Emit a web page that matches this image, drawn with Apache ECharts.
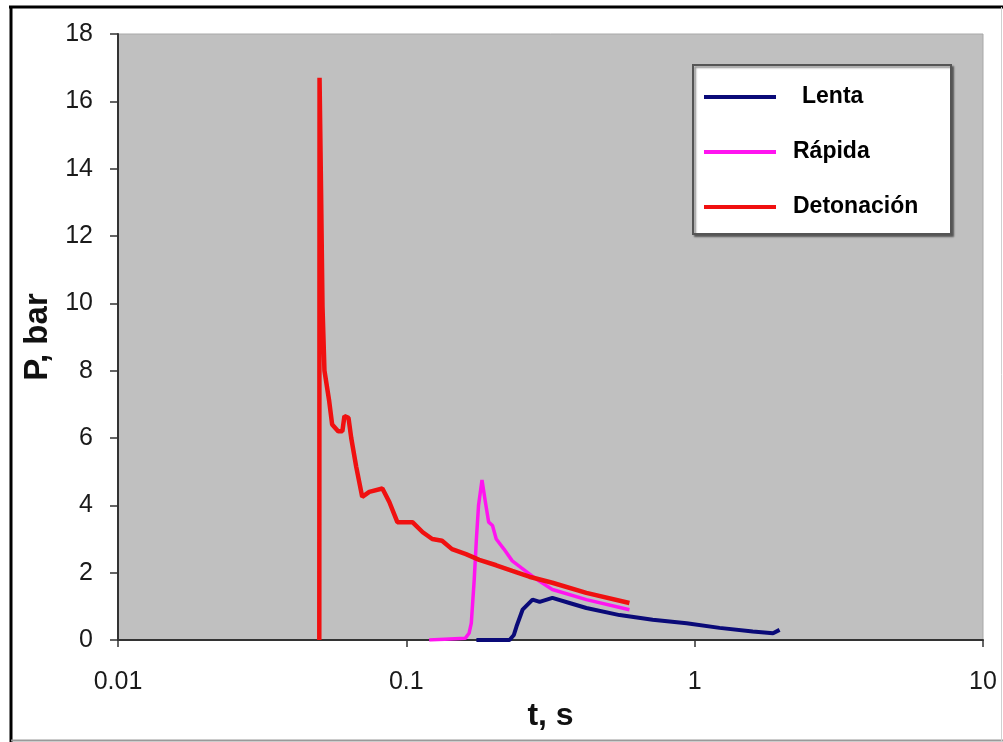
<!DOCTYPE html>
<html>
<head>
<meta charset="utf-8">
<title>P vs t</title>
<script src="https://cdn.jsdelivr.net/npm/echarts@6/dist/echarts.min.js"></script>
<style>
  html, body { margin: 0; padding: 0; background: #fff; }
  #chart { width: 1003px; height: 742px; }
</style>
</head>
<body>
<div id="chart"></div>
<script>
// datos (t en s, P en bar)
const lentaT = [0.175, 0.228, 0.236, 0.241, 0.253, 0.274, 0.290, 0.321, 0.368, 0.421, 0.549, 0.715, 0.938, 1.22, 1.59, 1.87, 1.97]
const lentaP = [0, 0, 0.15, 0.4, 0.9, 1.2, 1.13, 1.25, 1.1, 0.95, 0.74, 0.6, 0.5, 0.36, 0.25, 0.2, 0.3]

const rapidaT = [0.120, 0.160, 0.165, 0.168, 0.172, 0.175, 0.178, 0.183, 0.188, 0.193, 0.199, 0.205, 0.218, 0.233, 0.250, 0.283, 0.321, 0.421, 0.594]
const rapidaP = [0, 0.05, 0.2, 0.5, 1.8, 3.0, 4.0, 4.75, 4.1, 3.5, 3.4, 3.0, 2.7, 2.35, 2.15, 1.8, 1.5, 1.2, 0.9]

const detonT = [0.0499, 0.0500, 0.0506, 0.0512, 0.0520, 0.0540, 0.0553, 0.0580, 0.0600, 0.0610, 0.0630, 0.0644, 0.0670, 0.0703, 0.0744, 0.0826, 0.0873, 0.0931, 0.105, 0.114, 0.123, 0.133, 0.144, 0.161, 0.179, 0.205, 0.233, 0.267, 0.321, 0.421, 0.594]
const detonP = [0, 16.7, 13.4, 9.9, 8.0, 7.1, 6.4, 6.2, 6.2, 6.65, 6.6, 6.0, 5.15, 4.25, 4.4, 4.5, 4.1, 3.5, 3.5, 3.2, 3.0, 2.95, 2.7, 2.55, 2.38, 2.22, 2.05, 1.88, 1.7, 1.4, 1.1]

const xTicks = [0.01, 0.1, 1, 10]
const yMin = 0, yMax = 18, yStep = 2

const seriesNames = ['Lenta', 'Rápida', 'Detonación']
const seriesColors = ['#0a0a78', '#ff14f0', '#f01010']

const FONT = "'Liberation Sans', Arial, sans-serif"

const pairs = (ts, ps) => ts.map((t, i) => [t, ps[i]])

const seriesData = [
  pairs(lentaT, lentaP),
  pairs(rapidaT, rapidaP),
  pairs(detonT, detonP)
]
const lineWidths = [4, 3.5, 4.5]

const chart = echarts.init(document.getElementById('chart'), null, { renderer: 'canvas' })

chart.setOption({
  backgroundColor: '#ffffff',
  animation: false,
  textStyle: { fontFamily: FONT },
  grid: {
    left: 118,
    right: 20,
    top: 34,
    bottom: 102,
    show: true,
    backgroundColor: '#c0c0c0',
    borderColor: '#a8a8a8',
    borderWidth: 1
  },
  xAxis: {
    type: 'log',
    logBase: 10,
    min: xTicks[0],
    max: xTicks[xTicks.length - 1],
    name: 't, s',
    nameLocation: 'middle',
    nameGap: 57,
    nameTextStyle: { fontFamily: FONT, fontSize: 32, fontWeight: 'bold', color: '#111' },
    axisLine: { lineStyle: { color: '#333', width: 2 } },
    axisTick: { show: true, length: 7, lineStyle: { color: '#333', width: 1.5 } },
    minorTick: { show: false },
    splitLine: { show: false },
    axisLabel: {
      margin: 30,
      fontSize: 25,
      color: '#1a1a1a',
      formatter: v => (xTicks.find(t => Math.abs(t - v) / t < 1e-6) ?? v).toString()
    }
  },
  yAxis: {
    type: 'value',
    min: yMin,
    max: yMax,
    interval: yStep,
    name: 'P, bar',
    nameLocation: 'middle',
    nameGap: 64,
    nameTextStyle: { fontFamily: FONT, fontSize: 33, fontWeight: 'bold', color: '#111' },
    axisLine: { show: true, lineStyle: { color: '#333', width: 2 } },
    axisTick: { show: true, length: 8, lineStyle: { color: '#333', width: 1.5 } },
    splitLine: { show: false },
    axisLabel: { margin: 25, fontSize: 25, color: '#1a1a1a' }
  },
  legend: {
    orient: 'vertical',
    left: 693,
    top: 65,
    padding: [19, 13, 14, 11],
    itemWidth: 72,
    itemHeight: 4,
    itemGap: 29,
    icon: 'rect',
    backgroundColor: '#ffffff',
    borderColor: '#555',
    borderWidth: 2,
    borderRadius: 0,
    shadowColor: 'rgba(0,0,0,0.45)',
    shadowBlur: 2,
    shadowOffsetX: 2,
    shadowOffsetY: 2,
    // "Lenta" va un poco mas adentro en el original
    formatter: name => (name === 'Lenta' ? '{ind|}' : '') + name,
    textStyle: {
      fontFamily: FONT,
      fontSize: 23,
      fontWeight: 'bold',
      color: '#000',
      lineHeight: 26,
      width: 145,
      padding: [0, 0, 0, 12],
      rich: { ind: { width: 9 } }
    },
    data: seriesNames
  },
  // marco exterior
  graphic: [
    { type: 'line', shape: { x1: 9, y1: 7, x2: 1003, y2: 7 }, style: { stroke: '#000', lineWidth: 3 }, silent: true },
    { type: 'line', shape: { x1: 11, y1: 6, x2: 11, y2: 742 }, style: { stroke: '#000', lineWidth: 3 }, silent: true },
    { type: 'line', shape: { x1: 11, y1: 740.5, x2: 1003, y2: 740.5 }, style: { stroke: '#9a9a9a', lineWidth: 2 }, silent: true },
    { type: 'line', shape: { x1: 1001.5, y1: 7, x2: 1001.5, y2: 742 }, style: { stroke: '#d0d0d0', lineWidth: 1 }, silent: true }
  ],
  series: seriesNames.map((name, i) => ({
    name,
    type: 'line',
    data: seriesData[i],
    showSymbol: false,
    symbol: 'none',
    smooth: false,
    color: seriesColors[i],
    lineStyle: { width: lineWidths[i], color: seriesColors[i] },
    z: 2 + i
  }))
})
</script>
</body>
</html>
